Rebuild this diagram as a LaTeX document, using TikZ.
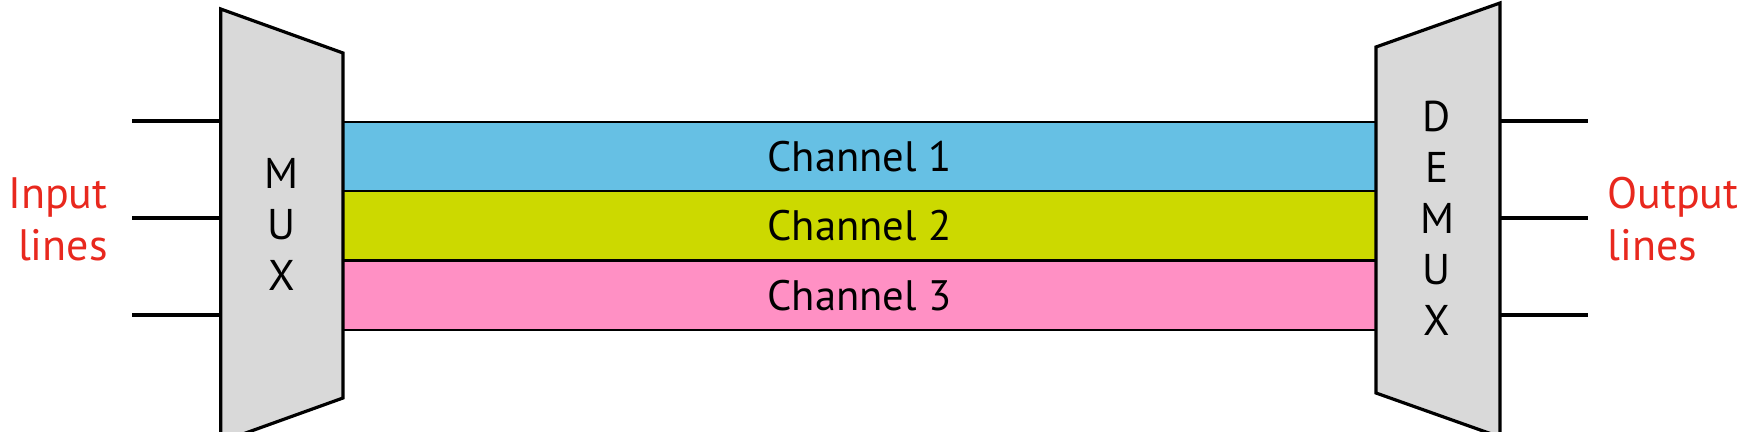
\documentclass[tikz,border=0pt]{standalone}
\usepackage{fontspec}
\setmainfont{PT Sans}
\definecolor{chA}{HTML}{66C0E4}
\definecolor{chB}{HTML}{CCD900}
\definecolor{chC}{HTML}{FF90C4}
\definecolor{boxgray}{HTML}{D9D9D9}
\definecolor{lblred}{HTML}{E8281E}
\begin{document}
\begin{tikzpicture}[x=0.5pt,y=-0.5pt,
  txt/.style={font=\fontsize{21.5}{25.5}\selectfont, inner sep=0pt, align=center},
  lbl/.style={font=\fontsize{22}{26}\selectfont, inner sep=0pt, text=lblred},
  band/.style={draw, line width=1.2pt, minimum width=516.5pt, minimum height=34.7pt, inner sep=0pt, font=\fontsize{21.3}{24}\selectfont},
  device/.style={draw, line width=1.6pt, fill=boxgray, line join=miter},
  wire/.style={line width=1.6pt}]
\useasboundingbox (0,0) rectangle (1737,432);
\clip (0,0) rectangle (1737,432);
% channels
\node[band, fill=chA] (ch1) at (859.5,156.7) {Channel 1};
\node[band, fill=chB] (ch2) at (859.5,226.0) {Channel 2};
\node[band, fill=chC] (ch3) at (859.5,295.3) {Channel 3};
% MUX
\coordinate (mtl) at (220.7,9);
\coordinate (mtr) at (343,53);
\coordinate (mbr) at (343,398);
\coordinate (mbl) at (220.7,442);
\draw[device] (mtl) -- (mtr) -- (mbr) -- (mbl) -- cycle;
\node[txt] (mux) at (282,224) {M\\U\\X};
% DEMUX
\coordinate (dtl) at (1376,47);
\coordinate (dtr) at (1500,3);
\coordinate (dbr) at (1500,437);
\coordinate (dbl) at (1376,393);
\draw[device] (dtl) -- (dtr) -- (dbr) -- (dbl) -- cycle;
\node[txt] (demux) at (1437,218) {D\\E\\M\\U\\X};
% input lines
\coordinate (i1) at (132,121);
\coordinate (i2) at (132,218);
\coordinate (i3) at (132,315);
\coordinate (muxL) at (220.7,0);
\draw[wire] (i1) -- (i1 -| muxL);
\draw[wire] (i2) -- (i2 -| muxL);
\draw[wire] (i3) -- (i3 -| muxL);
% output lines
\coordinate (o1) at (1588,121);
\coordinate (o2) at (1588,218);
\coordinate (o3) at (1588,315);
\coordinate (demuxR) at (1500,0);
\draw[wire] (o1 -| demuxR) -- (o1);
\draw[wire] (o2 -| demuxR) -- (o2);
\draw[wire] (o3 -| demuxR) -- (o3);
% labels
\node[lbl, align=right, anchor=east] (inlbl) at (108,219) {Input\\lines};
\node[lbl, align=left, anchor=west] (outlbl) at (1607,219) {Output\\lines};
\end{tikzpicture}
\end{document}
